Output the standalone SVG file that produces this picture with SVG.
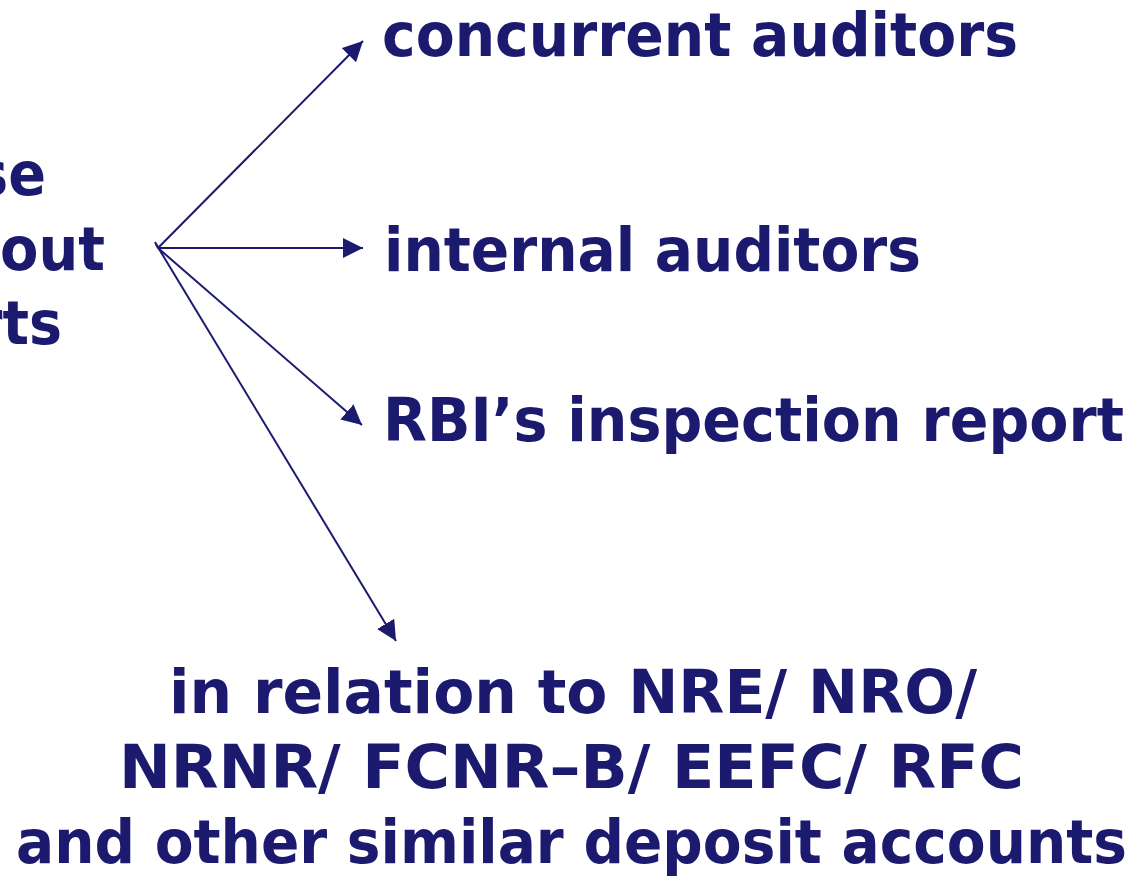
<svg xmlns="http://www.w3.org/2000/svg" width="1145" height="878" viewBox="0 0 1145 878">
  <style>
    .lbl { font-family: "DejaVu Sans", "Liberation Sans", sans-serif; font-weight: bold; font-size: 61px; fill: #1b1a6f; }
    .conn { stroke: #1b1a6f; stroke-width: 2; fill: none; }
  </style>
  <defs>
    <marker id="head" markerUnits="userSpaceOnUse" markerWidth="22" markerHeight="22" refX="20" refY="10" orient="auto" viewBox="0 0 22 22">
      <path d="M0,0 L20,10 L0,20 z" fill="#1b1a6f"/>
    </marker>
  </defs>
  <rect width="1145" height="878" fill="#ffffff"/>

  <!-- source text, partly outside the left edge -->
  <g id="source">
    <text class="lbl" x="-25" y="195" textLength="71" lengthAdjust="spacingAndGlyphs">se</text>
    <text class="lbl" x="0" y="270" textLength="105" lengthAdjust="spacingAndGlyphs">out</text>
    <text class="lbl" x="-25" y="344" textLength="87" lengthAdjust="spacingAndGlyphs">rts</text>
  </g>

  <g id="connectors">
    <line class="conn" x1="155" y1="242" x2="158" y2="248"/>
    <line class="conn" x1="158" y1="248" x2="363" y2="41" marker-end="url(#head)"/>
    <line class="conn" x1="158" y1="248" x2="363" y2="248" marker-end="url(#head)"/>
    <line class="conn" x1="158" y1="248" x2="362" y2="425" marker-end="url(#head)"/>
    <line class="conn" x1="156" y1="244" x2="396" y2="641" marker-end="url(#head)"/>
  </g>

  <g id="concurrent">
    <text class="lbl" x="382" y="56" textLength="636" lengthAdjust="spacingAndGlyphs">concurrent auditors</text>
  </g>
  <g id="internal">
    <text class="lbl" x="384" y="271" textLength="537" lengthAdjust="spacingAndGlyphs">internal auditors</text>
  </g>
  <g id="rbi">
    <text class="lbl" x="383" y="441" textLength="741" lengthAdjust="spacingAndGlyphs">RBI’s inspection report</text>
  </g>
  <g id="accounts">
    <text class="lbl" x="169" y="713" textLength="808" lengthAdjust="spacingAndGlyphs">in relation to NRE/ NRO/</text>
    <text class="lbl" x="119" y="788" textLength="905" lengthAdjust="spacingAndGlyphs">NRNR/ FCNR–B/ EEFC/ RFC</text>
    <text class="lbl" x="16" y="863" textLength="1111" lengthAdjust="spacingAndGlyphs">and other similar deposit accounts</text>
  </g>
</svg>
